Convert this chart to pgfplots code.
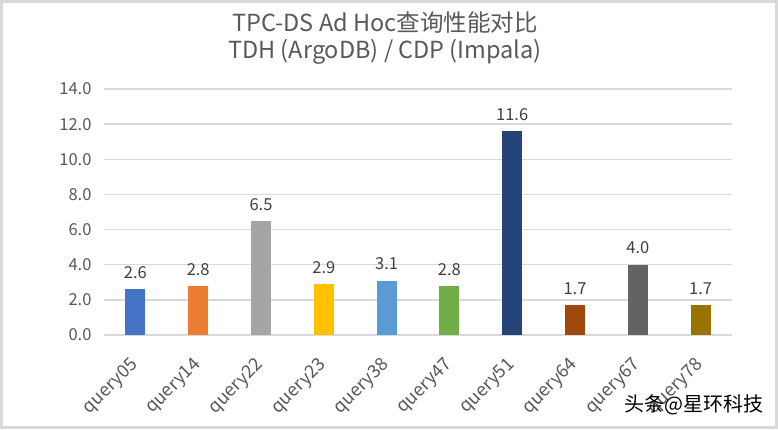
\documentclass[border=0pt]{standalone}
\usepackage{fontspec}
\setmainfont{Noto Sans CJK SC}
\usepackage{pgfplots}
\pgfplotsset{compat=1.18}
\definecolor{txt}{HTML}{595959}
\definecolor{vtxt}{HTML}{404040}
\definecolor{gridc}{HTML}{D9D9D9}
\definecolor{framec}{HTML}{D9D9D9}
\definecolor{c1}{HTML}{4472C4}
\definecolor{c2}{HTML}{ED7D31}
\definecolor{c3}{HTML}{A5A5A5}
\definecolor{c4}{HTML}{FFC000}
\definecolor{c5}{HTML}{5B9BD5}
\definecolor{c6}{HTML}{70AD47}
\definecolor{c7}{HTML}{264478}
\definecolor{c8}{HTML}{9E480E}
\definecolor{c9}{HTML}{636363}
\definecolor{c10}{HTML}{997300}
\begin{document}
\begin{tikzpicture}[x=1bp,y=1bp]
\useasboundingbox (0,0) rectangle (778,429);
\draw[draw=framec, line width=3bp, fill=white] (1.5,1.5) rectangle (776.5,427.5);
\node[txt, font=\fontsize{23.5bp}{27bp}\selectfont] at (385,406) {TPC-DS Ad Hoc查询性能对比};
\node[txt, font=\fontsize{23.5bp}{27bp}\selectfont] at (385,377) {TDH (ArgoDB) / CDP (Impala)};
\begin{axis}[
    at={(104bp,94bp)}, anchor=south west,
    scale only axis, width=628bp, height=246bp,
    ybar, bar width=20bp,
    xmin=-0.5, xmax=9.5, ymin=0, ymax=14,
    ytick={0,2,...,14},
    xtick={0,...,9},
    xticklabels={query05,query14,query22,query23,query38,query47,query51,query64,query67,query78},
    x tick label style={yshift=-27bp, rotate=45, anchor=east, inner sep=0pt,
        font=\fontsize{18bp}{20bp}\selectfont},
    y tick label style={font=\fontsize{16.5bp}{19bp}\selectfont, xshift=-9bp,
        /pgf/number format/.cd, fixed, fixed zerofill, precision=1},
    /pgf/number format/assume math mode=true,
    ymajorgrids, grid style={draw=gridc, line width=1.3bp},
    axis lines*=left,
    y axis line style={draw=none},
    x axis line style={draw=gridc, line width=1.6bp, -},
    major tick length=0pt,
    tick label style={txt},
    nodes near coords={\pgfmathprintnumber[fixed, fixed zerofill, precision=1]{\pgfplotspointmeta}},
    every node near coord/.append style={vtxt, font=\fontsize{16.5bp}{19bp}\selectfont, yshift=7bp},
]
\addplot[fill=c1, draw=none, bar shift=0pt] coordinates {(0,2.6)};
\addplot[fill=c2, draw=none, bar shift=0pt] coordinates {(1,2.8)};
\addplot[fill=c3, draw=none, bar shift=0pt] coordinates {(2,6.5)};
\addplot[fill=c4, draw=none, bar shift=0pt] coordinates {(3,2.9)};
\addplot[fill=c5, draw=none, bar shift=0pt] coordinates {(4,3.1)};
\addplot[fill=c6, draw=none, bar shift=0pt] coordinates {(5,2.8)};
\addplot[fill=c7, draw=none, bar shift=0pt] coordinates {(6,11.6)};
\addplot[fill=c8, draw=none, bar shift=0pt] coordinates {(7,1.7)};
\addplot[fill=c9, draw=none, bar shift=0pt] coordinates {(8,4.0)};
\addplot[fill=c10, draw=none, bar shift=0pt] coordinates {(9,1.7)};
\end{axis}
\node[black, font=\fontsize{20bp}{22bp}\selectfont, inner sep=0pt] at (694,24) {头条@星环科技};
\end{tikzpicture}
\end{document}
